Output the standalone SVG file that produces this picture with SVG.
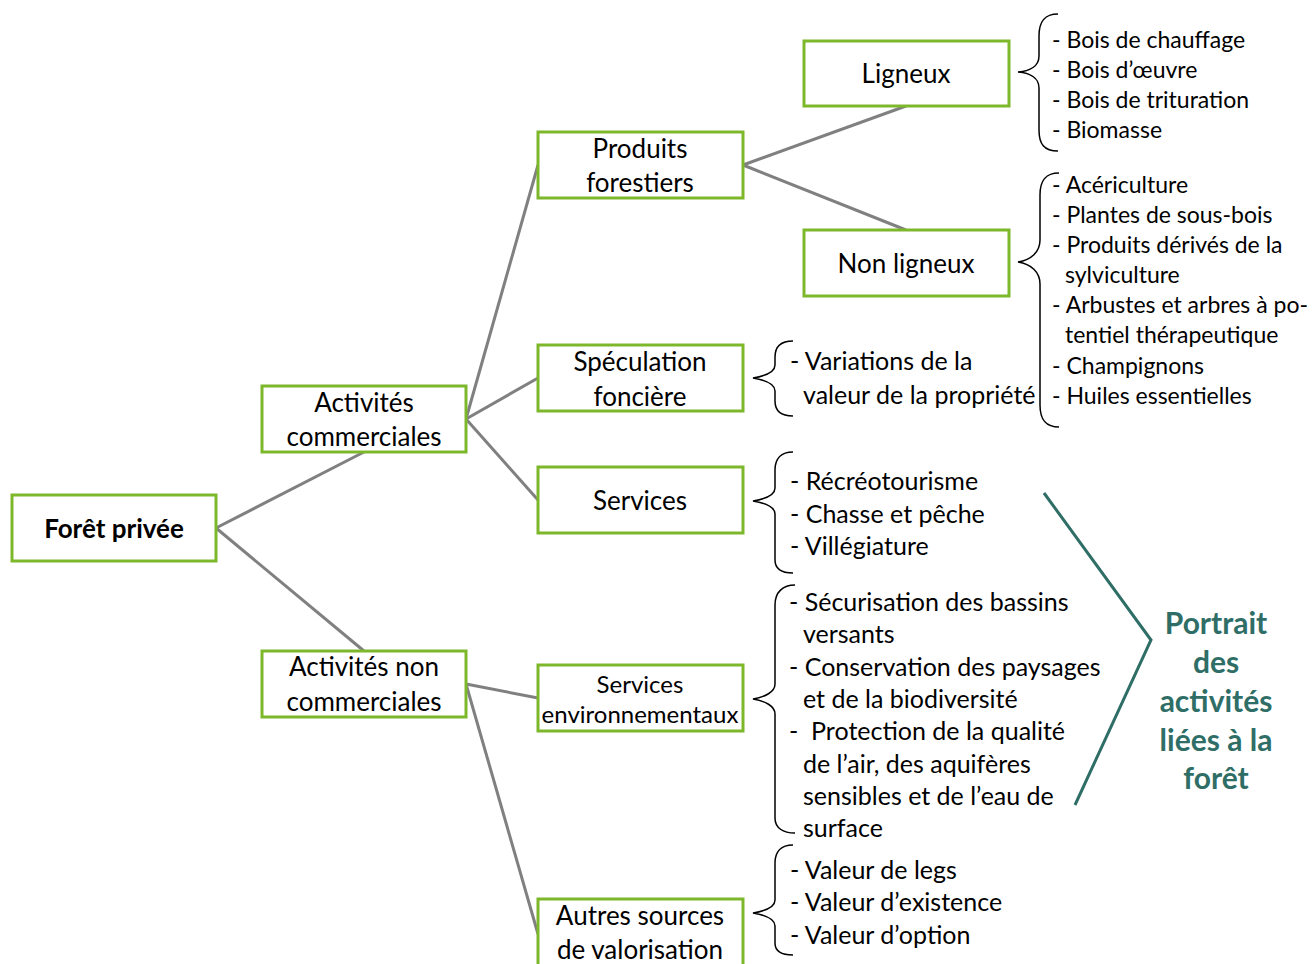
<svg xmlns="http://www.w3.org/2000/svg" width="1312" height="964" viewBox="0 0 1312 964">
<style>
.box{fill:#fff;stroke:#7cb82a;stroke-width:3}
.lbl{font-family:Lato,"Liberation Sans",sans-serif;font-size:26px;fill:#000;text-anchor:middle}
.sm{font-size:24px}
.item{font-family:Lato,"Liberation Sans",sans-serif;font-size:23px;fill:#000}
.item2{font-family:Lato,"Liberation Sans",sans-serif;font-size:25px;fill:#000}
.conn{stroke:#808080;stroke-width:3;fill:none}
.brace{stroke:#000;stroke-width:1.5;fill:none}
.teal{font-family:Lato,"Liberation Sans",sans-serif;font-size:30px;font-weight:bold;fill:#2f6e66;text-anchor:middle}
</style>
<rect width="1312" height="964" fill="#fff"/>
<g id="connectors">
<line class="conn" x1="216" y1="528" x2="364" y2="452"/>
<line class="conn" x1="216" y1="528" x2="364" y2="651"/>
<line class="conn" x1="466" y1="419" x2="538" y2="165"/>
<line class="conn" x1="466" y1="419" x2="538" y2="378"/>
<line class="conn" x1="466" y1="419" x2="538" y2="500"/>
<line class="conn" x1="466" y1="684" x2="538" y2="698"/>
<line class="conn" x1="466" y1="684" x2="538" y2="934"/>
<line class="conn" x1="743" y1="165" x2="906" y2="106"/>
<line class="conn" x1="743" y1="165" x2="906" y2="230"/>
</g>
<g id="foret"><rect class="box" x="12" y="495" width="204" height="66"/><text class="lbl" x="114" y="538" font-weight="bold">Forêt privée</text></g>
<g id="act-comm"><rect class="box" x="262" y="386" width="204" height="66"/><text class="lbl" x="364" y="412">Activités</text><text class="lbl" x="364" y="446">commerciales</text></g>
<g id="act-noncomm"><rect class="box" x="262" y="651" width="204" height="66"/><text class="lbl" x="364" y="676">Activités non</text><text class="lbl" x="364" y="711">commerciales</text></g>
<g id="produits"><rect class="box" x="538" y="132" width="205" height="66"/><text class="lbl" x="640" y="158">Produits</text><text class="lbl" x="640" y="192">forestiers</text></g>
<g id="speculation"><rect class="box" x="538" y="345" width="205" height="66"/><text class="lbl" x="640" y="371">Spéculation</text><text class="lbl" x="640" y="406">foncière</text></g>
<g id="services"><rect class="box" x="538" y="467" width="205" height="66"/><text class="lbl" x="640" y="510">Services</text></g>
<g id="services-env"><rect class="box" x="538" y="665" width="205" height="66"/><text class="lbl sm" x="640" y="693">Services</text><text class="lbl sm" x="640" y="723">environnementaux</text></g>
<g id="autres"><rect class="box" x="538" y="899" width="205" height="80"/><text class="lbl" x="640" y="925">Autres sources</text><text class="lbl" x="640" y="959">de valorisation</text></g>
<g id="ligneux"><rect class="box" x="804" y="41" width="205" height="65"/><text class="lbl" x="906" y="83">Ligneux</text></g>
<g id="non-ligneux"><rect class="box" x="804" y="230" width="205" height="66"/><text class="lbl" x="906" y="273">Non ligneux</text></g>
<g id="braces">
<path class="brace" d="M1058,14 C1044,14 1039,22 1039,36 L1039,56 C1039,66 1030,71 1018,72 C1030,73 1039,78 1039,88 L1039,130 C1039,144 1044,151 1058,151"/>
<path class="brace" d="M1059,173 C1045,173 1040,181 1040,195 L1040,240 C1040,252 1031,260 1018,262 C1031,264 1040,272 1040,284 L1040,405 C1040,419 1045,427 1059,427"/>
<path class="brace" d="M793,341 C781,341 775,347 775,357 L775,365 C775,372 765,376 753,378 C765,380 775,384 775,391 L775,401 C775,411 781,416 793,416"/>
<path class="brace" d="M793,452 C781,452 775,459 775,470 L775,488 C775,495 765,499 753,501 C765,503 775,507 775,514 L775,560 C775,569 781,573 793,573"/>
<path class="brace" d="M795,585 C783,585 775,592 775,605 L775,684 C775,692 765,697 753,699 C765,701 775,706 775,714 L775,818 C775,828 783,833 795,833"/>
<path class="brace" d="M793,845 C781,845 775,852 775,863 L775,900 C775,907 765,911 753,913 C765,915 775,919 775,926 L775,943 C775,951 781,955 793,955"/>
</g>
<g id="list-ligneux">
<text class="item" x="1052" y="48">- Bois de chauffage</text>
<text class="item" x="1052" y="78">- Bois d’œuvre</text>
<text class="item" x="1052" y="108">- Bois de trituration</text>
<text class="item" x="1052" y="138">- Biomasse</text>
</g>
<g id="list-nonligneux">
<text class="item" x="1052" y="193">- Acériculture</text>
<text class="item" x="1052" y="223">- Plantes de sous-bois</text>
<text class="item" x="1052" y="253">- Produits dérivés de la</text>
<text class="item" x="1065" y="283">sylviculture</text>
<text class="item" x="1052" y="313">- Arbustes et arbres à po-</text>
<text class="item" x="1065" y="343">tentiel thérapeutique</text>
<text class="item" x="1052" y="374">- Champignons</text>
<text class="item" x="1052" y="404">- Huiles essentielles</text>
</g>
<g id="list-speculation">
<text class="item2" x="790" y="370">- Variations de la</text>
<text class="item2" x="803" y="404">valeur de la propriété</text>
</g>
<g id="list-services">
<text class="item2" x="790" y="490">- Récréotourisme</text>
<text class="item2" x="790" y="523">- Chasse et pêche</text>
<text class="item2" x="790" y="555">- Villégiature</text>
</g>
<g id="list-env">
<text class="item2" x="789" y="611">- Sécurisation des bassins</text>
<text class="item2" x="803" y="643">versants</text>
<text class="item2" x="789" y="676">- Conservation des paysages</text>
<text class="item2" x="803" y="708">et de la biodiversité</text>
<text class="item2" x="789" y="740" xml:space="preserve">-  Protection de la qualité</text>
<text class="item2" x="803" y="773">de l’air, des aquifères</text>
<text class="item2" x="803" y="805">sensibles et de l’eau de</text>
<text class="item2" x="803" y="837">surface</text>
</g>
<g id="list-autres">
<text class="item2" x="790" y="879">- Valeur de legs</text>
<text class="item2" x="790" y="911">- Valeur d’existence</text>
<text class="item2" x="790" y="944">- Valeur d’option</text>
</g>
<g id="portrait">
<polyline points="1044,493 1151,640 1075,805" fill="none" stroke="#2f6e66" stroke-width="3"/>
<text class="teal" x="1216" y="634">Portrait</text>
<text class="teal" x="1216" y="673">des</text>
<text class="teal" x="1216" y="712">activités</text>
<text class="teal" x="1216" y="751">liées à la</text>
<text class="teal" x="1216" y="789">forêt</text>
</g>
</svg>
